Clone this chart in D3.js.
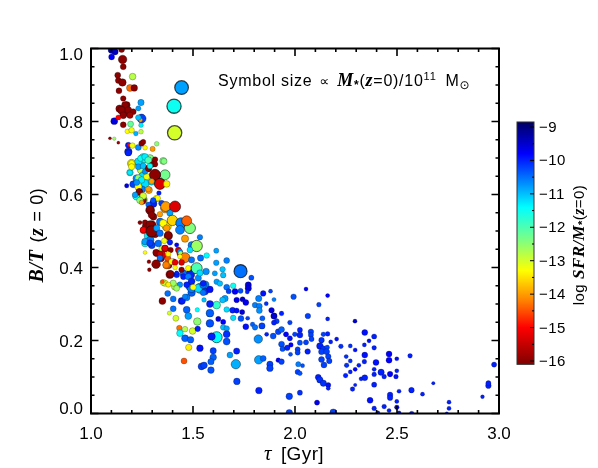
<!DOCTYPE html>
<html>
<head>
<meta charset="utf-8">
<script src="https://cdn.jsdelivr.net/npm/d3@7"></script>
<style>
    html, body { margin: 0; background: #fff; }
    svg { display: block; filter: blur(0.3px); }
    text { font-family: "Liberation Sans", sans-serif; fill: #000; }
    .serif { font-family: "Liberation Serif", serif; font-weight: bold; font-style: italic; }
</style>
</head>
<body>
<svg id="chart" width="598" height="468"></svg>
<script>
// Values. Every galaxy has one entry in each of the four arrays.
// The first block of each array is the crowded band, drawn underneath the rest.
const tau = [
    1.183,1.199,1.191,1.256,1.232,1.289,1.248,1.256,1.224,1.207,
    1.265,1.248,1.232,1.284,1.224,1.256,1.251,1.237,1.354,1.314,
    1.281,1.305,1.338,1.297,1.322,1.305,
    1.290,1.306,1.363,1.273,1.298,1.257,1.314,1.281,1.265,1.298,
    1.290,1.379,1.371,1.339,1.347,1.330,1.322,1.363,1.343,1.376,
    1.404,1.379,1.494,1.428,
    1.346,1.371,1.395,1.436,1.501,1.485,1.452,1.420,1.387,1.362,
    1.412,1.485,1.534,1.559,1.493,1.559,1.444,1.469,
    1.140,1.165,1.175,
    2.342,2.388,2.363,2.340,2.388,2.461,2.342,2.499,2.564,2.340,
    2.397,2.461,2.388,2.422,2.499,2.388,2.466,2.437,2.495,2.324,
    2.342,2.388,2.510,2.571,2.678,2.625,2.466,2.466,2.368,2.499,
    2.388,2.437,2.461,2.499,2.406,2.510,2.572,2.755,2.755,2.744,
    2.919,2.948,2.948,2.976,
    1.614,1.614,1.665,1.645,1.648,1.607,1.733,1.786,1.616,1.632,
    1.665,1.697,1.771,1.771,1.675,1.706,1.733,1.766,1.844,1.880,
    2.054,2.160,1.993,2.117,1.822,1.897,1.657,1.645,1.616,1.714,
    1.743,1.759,1.859,1.804,1.825,1.825,1.665,1.694,1.714,1.741,
    1.885,1.934,1.897,2.063,2.160,2.294,1.697,1.735,1.768,1.624,
    1.648,1.840,1.910,1.897,1.975,1.759,1.792,1.804,1.838,1.648,
    1.665,1.665,1.616,1.665,1.820,1.861,1.893,1.918,1.934,1.956,
    1.975,1.999,2.024,2.024,2.078,2.078,2.081,2.139,2.160,2.130,
    2.175,2.204,1.934,1.939,1.962,1.980,1.978,2.013,2.013,2.024,
    2.054,2.062,2.122,2.139,2.158,2.130,2.155,2.163,2.225,2.271,
    2.295,2.251,2.130,2.168,2.142,2.271,2.253,2.313,2.248,2.271,
    2.295,1.599,1.599,1.714,1.681,1.588,1.588,1.710,1.822,1.844,
    1.877,1.877,1.918,1.934,2.016,2.037,2.013,2.024,2.114,2.122,
    2.139,2.163,2.163,2.295,2.282,1.715,1.823,1.972,2.024,2.108,
    1.972,2.188,
    1.350,1.376,1.403,1.448,1.461,1.493,1.526,1.550,1.550,1.554,
    1.403,1.384,1.416,1.469,1.477,1.521,1.521,1.433,1.461,1.436,
    1.498,1.523,1.461,1.488,1.479,1.456,1.534,1.583,1.583,1.583,
    1.583,1.591,1.542,1.554,
    1.191,1.232,1.248,1.224,1.273,1.265,1.363,1.314,1.297,1.338,
    1.371,1.175,1.281,1.237,1.216,1.256,1.240,1.248,1.281,1.333,
    1.327,1.305,1.346,1.366,1.412,1.289,1.297,1.338,1.387,1.240,
    1.265,1.289,1.354,1.399,1.371,1.441,1.485,1.469,1.256,1.297,
    1.322,1.338,1.379,1.436,1.265,1.289,1.359,1.387,1.420,1.461,
    1.534,1.518,1.265,1.319,1.338,1.363,1.390,1.379,1.338,1.368,
    1.436,1.485,1.439,1.461,1.436,1.493,1.537,1.567,1.284,1.286,
    1.319,1.412,1.444,1.412,1.420,1.444,1.477,1.518,1.564,1.390,
    1.453,1.477,1.493,1.403,1.354,1.379,1.436,1.469,1.526,1.534,
    1.501,1.420,1.550,1.350,
    1.101,1.118,1.101,1.150,1.155,1.158,1.204,1.131,1.134,1.154,
    1.444,1.191,1.212,1.137,1.407,1.158,1.245,1.167,1.150,1.183,
    1.158,1.207,1.191,1.232,1.248,1.243,1.232,1.114,1.134,1.158,
    1.194,1.245,1.178,1.199,1.245,1.220,1.410,1.093,1.114,1.134,
    1.183,1.186,1.203,1.232,1.248,1.256,1.265,1.302,1.322,1.183,
    1.199,1.199,1.243,1.265,1.281,1.314,1.314,1.358,1.297,1.232,
    1.256,1.281,1.289
];
const bulgeToTotal = [
    .717,.685,.660,.699,.690,.699,.667,.649,.644,.628,
    .630,.614,.621,.612,.596,.585,.585,.607,.692,.653,
    .671,.685,.630,.635,.589,.575,
    .557,.539,.562,.512,.516,.502,.493,.487,.466,.461,
    .475,.487,.512,.525,.452,.466,.439,.452,.425,.425,
    .416,.407,.461,.448,
    .434,.407,.416,.439,.393,.380,.384,.380,.381,.357,
    .348,.348,.343,.352,.331,.334,.308,.318,
    .835,.825,.845,
    .222,.211,.199,.188,.180,.163,.160,.150,.158,.142,
    .140,.146,.121,.113,.117,.107,.108,.101,.101,.095,
    .098,.079,.061,.064,.083,.053,.051,.043,.036,.033,
    .014,.019,.008,.017,.002,.002,.000,.031,.014,.000,
    .046,.076,.083,.134,
    .446,.413,.419,.395,.379,.384,.390,.372,.361,.356,
    .346,.350,.352,.343,.335,.334,.336,.333,.329,.335,
    .341,.323,.320,.298,.315,.312,.315,.311,.297,.311,
    .313,.304,.301,.297,.294,.282,.285,.283,.282,.278,
    .283,.274,.267,.267,.259,.253,.262,.260,.261,.259,
    .251,.261,.253,.249,.249,.238,.244,.236,.240,.236,
    .233,.217,.209,.197,.204,.217,.212,.224,.230,.217,
    .206,.217,.229,.215,.224,.215,.204,.217,.218,.201,
    .196,.204,.190,.177,.180,.188,.162,.176,.167,.194,
    .195,.170,.185,.178,.181,.169,.169,.156,.184,.185,
    .174,.156,.148,.144,.133,.144,.132,.132,.104,.114,
    .121,.172,.154,.171,.160,.142,.119,.135,.147,.151,
    .135,.124,.146,.142,.135,.131,.114,.110,.099,.092,
    .083,.078,.069,.078,.067,.088,.063,.047,.057,.030,
    .002,.003,
    .308,.329,.314,.308,.320,.343,.343,.352,.331,.311,
    .287,.275,.261,.284,.267,.284,.252,.234,.231,.220,
    .226,.232,.206,.202,.181,.144,.179,.300,.340,.275,
    .247,.211,.129,.132,
    .660,.645,.640,.633,.649,.663,.654,.654,.636,.629,
    .629,.624,.615,.608,.599,.596,.584,.578,.572,.604,
    .590,.584,.576,.567,.567,.560,.544,.546,.549,.523,
    .523,.517,.521,.529,.508,.522,.508,.528,.503,.499,
    .508,.494,.488,.503,.471,.467,.473,.469,.462,.479,
    .483,.459,.441,.441,.437,.453,.448,.437,.426,.407,
    .444,.448,.439,.427,.430,.421,.426,.433,.416,.394,
    .409,.414,.414,.400,.385,.394,.398,.398,.389,.382,
    .375,.375,.362,.357,.359,.353,.353,.353,.371,.385,
    .346,.343,.357,.361,
    .996,.991,.977,.997,.970,.950,.923,.927,.912,.907,
    .893,.892,.892,.884,.842,.863,.852,.845,.831,.831,
    .817,.827,.817,.836,.808,.804,.811,.801,.811,.791,
    .793,.790,.773,.776,.772,.767,.769,.754,.753,.742,
    .735,.736,.734,.729,.740,.744,.728,.725,.739,.714,
    .685,.676,.699,.703,.694,.696,.683,.691,.681,.676,
    .678,.671,.678
];
// stellar mass at z=0 in units of 10^11 Msun
const stellarMass = [
    1.2,1.5,.9,2,1.2,1.2,1.5,2,1.2,1,
    1.5,1.2,1.1,1,1.4,1.4,1.6,1,1,2.6,
    1,1,2.6,1,.9,1.2,
    1.8,1,1.8,1.8,1.8,1,1.5,1.4,1,1,
    1.3,1.6,1.8,1.2,.7,.9,1,1,1,.8,
    .7,1.2,1.2,.7,
    1.4,1.3,.7,.8,1.2,2,1,.7,1.4,.8,
    1.1,1.4,2.4,1.4,1.2,1,1,.9,
    1.2,1.4,1,
    .7,.5,.3,.3,.4,.7,.7,.3,.4,.4,
    .7,.7,.3,.8,.3,.4,.6,.4,.4,.3,
    .7,.5,.3,.6,.2,.3,.6,.6,.7,.3,
    .4,.4,.3,.4,.3,.3,.4,.3,.3,.2,
    .25,.6,.5,.5,
    .5,.6,.7,.6,.6,.5,4.5,.5,.6,.6,
    .7,.6,.8,.8,.5,.7,.5,.3,.6,.3,
    .3,.3,.6,.4,.8,.3,.8,.7,1.3,.6,
    .5,.7,.3,.6,.7,.7,.6,.7,.5,.5,
    .6,.4,.8,.6,.3,.3,.6,.7,.3,.5,
    .5,.5,.5,.5,.4,.7,.4,.6,.8,.6,
    .6,1,3,1,1.6,.3,.7,.7,.7,.5,
    .5,.4,.5,.7,.6,.5,.5,.4,.4,.6,
    .3,.3,.7,.5,.6,.4,.3,.5,.5,.5,
    .5,.6,.9,.6,.4,.7,.7,.6,.4,.3,
    .3,.3,.7,.6,.7,.3,.4,.3,.4,.3,
    .3,.8,.9,.8,.7,.8,.9,2,1.6,.7,
    .8,.9,.4,.6,.5,.3,.5,.4,.7,.8,
    .8,.5,.3,.2,.4,.9,.9,.9,.5,.5,
    .9,1,
    1,.7,.7,.7,.6,1.6,1.4,1,.7,.4,
    .7,.3,.7,1,1,.35,1.2,.6,.6,.9,
    .9,.6,1,.9,.8,.7,.9,1,.9,1.3,
    1.3,1.2,1,.9,
    .5,.9,.9,.7,.8,.6,2.3,3,.6,3,
    .9,.35,.6,.7,.6,.9,.9,.4,.5,.4,
    .6,.6,.7,2.3,3,1,1,.6,.8,.3,
    .6,1.4,1.2,2.6,.9,2.6,3,2.3,.7,3.2,
    .8,.9,1.2,1.8,.9,.9,.6,.6,.35,1.1,
    .6,3.2,.25,.9,.6,.7,.6,.5,.7,.9,
    .5,.7,.4,2.3,.4,.8,.8,.6,.25,.25,
    1.7,.7,.7,.4,.3,.6,.6,3,.9,1,
    .7,.8,1,.8,.7,.5,.6,.7,.8,.8,
    .7,.7,.7,.3,
    1,.8,.7,.7,1.6,.7,.9,.7,.7,1.2,
    5,1,.9,.7,5.4,.6,.8,1,1.3,1,
    1,.7,.8,.5,1.8,.3,.6,1,.5,.7,
    .7,.4,.4,.6,.4,.4,5.5,.15,.2,.15,
    .7,.25,.6,.7,.6,.5,.4,.5,.4,.8,
    .8,.8,.7,.9,1,.6,.6,.7,.5,.7,
    .7,.7,.6
];
const logSsfr = [
    -10,-13.3,-11.3,-11.4,-11.2,-12.4,-12.8,-11.2,-10.7,-10.2,
    -11.2,-10.6,-13.3,-14,-11.6,-12.6,-16,-16,-12.4,-16,
    -16,-16,-15.3,-11.2,-13.3,-10,
    -16,-16,-14,-16,-16,-15,-16,-11.3,-11.6,-10.2,
    -10.6,-16,-13.4,-10.5,-13,-10.5,-16,-16,-16,-14.5,
    -15,-16,-10.6,-15.5,
    -15.3,-14.3,-13.3,-15,-10.6,-10,-10.5,-10,-16,-13.3,
    -12.8,-10.4,-11.2,-10.6,-10.4,-10.1,-10,-10.6,
    -16,-16,-16,
    -9.9,-10,-9.9,-10,-10,-9.8,-9.9,-9.9,-10,-10,
    -9.9,-9.8,-10,-10,-10,-10,-9.8,-10,-9.9,-10,
    -10,-10,-10,-10,-10,-10,-10,-10,-9.9,-10,
    -10,-10,-10,-9.8,-10,-10,-10,-10,-10,-10,
    -10,-10,-10,-10,
    -10.8,-10.8,-10.6,-11,-11,-10.8,-10.5,-10.3,-10.8,-11,
    -10.5,-11.5,-9.6,-9.6,-10.2,-9.8,-10.3,-10,-9.9,-10.2,
    -9.8,-9.8,-10.3,-10.2,-10.6,-10.6,-10.8,-11,-11.8,-9.7,
    -9.5,-9.7,-10.1,-10.6,-10.6,-10.7,-11.2,-10,-9.9,-9.6,
    -9.6,-10,-9.5,-10.2,-10,-9.5,-11.2,-10.3,-10.2,-9.6,
    -9.8,-10.4,-10.2,-10,-10.2,-9.9,-10.4,-10.5,-10.2,-11,
    -10.8,-10.1,-11.4,-10.3,-10.7,-10,-10.3,-10.2,-10.4,-9.8,
    -9.9,-10.2,-10,-10,-10.2,-10.2,-10.2,-10.2,-10,-10.1,
    -10,-9.9,-10.3,-10.3,-10,-9.8,-10.3,-10.2,-10.2,-10.3,
    -10.2,-10,-10,-10.1,-10.2,-10.2,-10.2,-10.2,-10.1,-10.1,
    -9.9,-10.1,-10.2,-10.2,-10.2,-10.1,-10.1,-10,-10,-10,
    -9.8,-10.2,-10.4,-10,-10.8,-10.4,-10.3,-10.9,-10.8,-10.4,
    -10.2,-10.2,-9.8,-10.2,-10.6,-10.3,-10.2,-10.3,-10,-10.1,
    -10.1,-9.9,-10,-10,-10,-10.2,-10,-10.2,-10.1,-9.7,
    -10.2,-10.2,
    -16,-10.5,-10.5,-10,-10.6,-10.6,-11.2,-10.5,-10.5,-11,
    -10.5,-13,-13,-10.4,-10.8,-11.4,-12.5,-14.3,-12.8,-11.4,
    -13,-10,-10.4,-10.4,-13.4,-14.5,-9.9,-10,-9.9,-10.4,
    -10.3,-10,-10.2,-10.2,
    -11.3,-12.5,-11.3,-10.7,-13.2,-10.7,-12.3,-16,-14,-15.3,
    -13.4,-9.6,-14,-16,-10.8,-13,-12.5,-14,-10.4,-10,
    -13.3,-10.3,-10.2,-14,-15.3,-16,-16,-14,-10.8,-16,
    -16,-16,-13.3,-13.6,-14,-10.6,-12.4,-14.4,-15,-16,
    -10.8,-10.5,-16,-10.6,-10.8,-10.2,-13.2,-10,-9.8,-14,
    -10.6,-12.6,-13.3,-16,-15.5,-15.2,-16,-13.4,-10.5,-14.2,
    -10.7,-11.2,-12.6,-14.2,-13.3,-10.5,-10.5,-11.4,-16,-16,
    -16,-15.2,-15.3,-13.3,-10,-16,-13.3,-12,-10.7,-16,
    -10,-10.6,-10,-12.6,-13,-13.4,-10.7,-10,-10.7,-11.2,
    -13.3,-12.6,-10,-14.5,
    -9.3,-9.4,-9.8,-16,-16,-16,-12.8,-16,-16,-16,
    -10.8,-14.3,-16,-16,-11.5,-16,-10.8,-16,-16,-16,
    -16,-16,-15.8,-10.8,-10.2,-14,-11,-9.6,-15,-16,
    -12.2,-11.3,-13.3,-13.2,-12.8,-10.9,-13,-16,-12.6,-15.8,
    -10,-15,-13.2,-10.7,-16,-16,-13.3,-14,-12.5,-10,
    -13.3,-13.3,-11.5,-11.3,-12,-16,-16,-12.4,-16,-10.8,
    -11,-16,-11.4
];

// Colour bar stops
const barValues = [-8.85, -9.8, -10.6, -11.4, -12.4, -13.3, -14.2, -15, -16.1];
const barColors = ['#000064', '#0000ff', '#0080ff', '#00ffff', '#80ff80', '#ffff00', '#ff8000', '#ff0000', '#800000'];
const barTicks = [-9, -10, -11, -12, -13, -14, -15, -16];
const barMinorTicks = [-9.5, -10.5, -11.5, -12.5, -13.5, -14.5, -15.5];

const xMajor = [1.0, 1.5, 2.0, 2.5, 3.0];
const yMajor = [0.0, 0.2, 0.4, 0.6, 0.8, 1.0];

const svg = d3.select('#chart');
const x = d3.scaleLinear().domain([1, 3]).range([91, 499]);
const y = d3.scaleLinear().domain([0, 1]).range([413.5, 48.5]);
const radius = d3.scalePow().exponent(0.42).domain([0, 6]).range([0, 7.4]);
const color = d3.scaleLinear().domain(barValues).range(barColors);
const yBar = d3.scaleLinear().domain([-9, -16]).range([127, 361]);

// Points first, clipped at the frame
svg.append('clipPath').attr('id', 'frame')
    .append('rect')
    .attr('x', 91).attr('y', 48.5).attr('width', 408).attr('height', 365);

svg.append('g')
    .attr('clip-path', 'url(#frame)')
    .selectAll('circle')
    .data(d3.range(tau.length))
    .enter()
    .append('circle')
    .attr('cx', (i) => x(tau[i]))
    .attr('cy', (i) => y(bulgeToTotal[i]))
    .attr('r', (i) => radius(stellarMass[i]))
    .attr('fill', (i) => color(logSsfr[i]))
    .attr('stroke', '#000')
    .attr('stroke-opacity', 0.7)
    .attr('stroke-width', (i) => 0.2 + stellarMass[i] * 0.2);

// Frame and ticks, same ticks mirrored on the opposite sides
const frame = svg.append('g').attr('stroke', '#000').attr('fill', 'none');
frame.append('rect')
    .attr('x', 91).attr('y', 48.5).attr('width', 408).attr('height', 365)
    .attr('stroke-width', 2);

const xTicks = d3.range(1, 3.001, 0.1);
const yTicks = d3.range(0, 1.001, 0.05);
const isMajor = (v, step) => Math.abs(v / step - Math.round(v / step)) < 1e-6;

frame.selectAll('.xt').data(xTicks).enter().append('path')
    .attr('stroke-width', 1.6)
    .attr('d', (d) => {
        const len = isMajor(d, 0.5) ? 7.5 : 3.5;
        return `M${x(d)},413.5v${-len}M${x(d)},48.5v${len}`;
    });
frame.selectAll('.yt').data(yTicks).enter().append('path')
    .attr('stroke-width', 1.6)
    .attr('d', (d) => {
        const len = isMajor(d, 0.2) ? 7.5 : 3.5;
        return `M91,${y(d)}h${len}M499,${y(d)}h${-len}`;
    });

// Axis labels
svg.selectAll('.xl').data(xMajor).enter().append('text')
    .attr('x', (d) => x(d)).attr('y', 439)
    .attr('text-anchor', 'middle').attr('font-size', 17)
    .text((d) => d.toFixed(1));
svg.selectAll('.yl').data(yMajor).enter().append('text')
    .attr('x', 83)
    .attr('y', (d) => y(d) + (d === 0 ? 0 : d === 1 ? 11 : 6))
    .attr('text-anchor', 'end').attr('font-size', 17)
    .text((d) => d.toFixed(1));

const xTitle = svg.append('text').attr('x', 294).attr('y', 460).attr('text-anchor', 'middle').attr('font-size', 19).attr('letter-spacing', 0.4);
xTitle.append('tspan').attr('font-family', 'Liberation Serif').attr('font-style', 'italic').attr('font-size', 21).text('τ');
xTitle.append('tspan').attr('dx', 9).text('[Gyr]');

const yTitle = svg.append('text')
    .attr('transform', 'translate(43,235) rotate(-90)')
    .attr('text-anchor', 'middle').attr('font-size', 18).attr('letter-spacing', 0.6);
yTitle.append('tspan').attr('class', 'serif').attr('font-size', 20).text('B/T');
yTitle.append('tspan').attr('dx', 7).text('(');
yTitle.append('tspan').attr('class', 'serif').attr('font-size', 20).text('z');
yTitle.append('tspan').attr('dx', 6).text('= 0)');

// Annotation
const note = svg.append('text').attr('x', 218).attr('y', 86).attr('font-size', 16).attr('letter-spacing', 0.75);
note.append('tspan').text('Symbol size');
note.append('tspan').attr('dx', 7).attr('font-family', 'DejaVu Sans').attr('font-size', 14).text('∝');
note.append('tspan').attr('dx', 7).attr('class', 'serif').attr('font-size', 18).text('M');
note.append('tspan').attr('font-weight', 'bold').attr('dy', 3).attr('font-size', 12).text('*');
note.append('tspan').attr('dy', -3).text('(');
note.append('tspan').attr('class', 'serif').attr('font-size', 18).text('z');
note.append('tspan').text('=0)/10');
note.append('tspan').attr('dy', -6).attr('font-size', 11).text('11');
note.append('tspan').attr('dy', 6).attr('dx', 9).text('M');
note.append('tspan').attr('dy', 3).attr('font-family', 'DejaVu Sans').attr('font-size', 12).text('⊙');

// Colour bar
const grad = svg.append('linearGradient').attr('id', 'bar')
    .attr('x1', 0).attr('x2', 0).attr('y1', 0).attr('y2', 1);
grad.selectAll('stop').data(barValues).enter().append('stop')
    .attr('offset', (d) => (d - barValues[0]) / (barValues[8] - barValues[0]))
    .attr('stop-color', (d) => color(d));

svg.append('rect')
    .attr('x', 517).attr('y', yBar(barValues[0]))
    .attr('width', 17).attr('height', yBar(barValues[8]) - yBar(barValues[0]))
    .attr('fill', 'url(#bar)')
    .attr('stroke', '#333').attr('stroke-width', 1);

svg.selectAll('.bt').data(barTicks).enter().append('line')
    .attr('x1', 530).attr('x2', 534).attr('y1', (d) => yBar(d)).attr('y2', (d) => yBar(d))
    .attr('stroke', '#000');
svg.selectAll('.bm').data(barMinorTicks).enter().append('line')
    .attr('x1', 532).attr('x2', 534).attr('y1', (d) => yBar(d)).attr('y2', (d) => yBar(d))
    .attr('stroke', '#000');
svg.selectAll('.bl').data(barTicks).enter().append('text')
    .attr('x', 539).attr('y', (d) => yBar(d) + 5)
    .attr('font-size', 15).attr('letter-spacing', 0.5)
    .text((d) => '−' + Math.abs(d));

const barTitle = svg.append('text')
    .attr('transform', 'translate(584,245) rotate(-90)')
    .attr('text-anchor', 'middle').attr('font-size', 15).attr('letter-spacing', 0.4);
barTitle.append('tspan').text('log');
barTitle.append('tspan').attr('dx', 5).attr('class', 'serif').attr('font-size', 17).text('SFR/M');
barTitle.append('tspan').attr('font-weight', 'bold').attr('dy', 2).attr('font-size', 11).text('*');
barTitle.append('tspan').attr('dy', -2).text('(');
barTitle.append('tspan').attr('class', 'serif').attr('font-size', 16).text('z');
barTitle.append('tspan').text('=0)');
</script>
</body>
</html>
